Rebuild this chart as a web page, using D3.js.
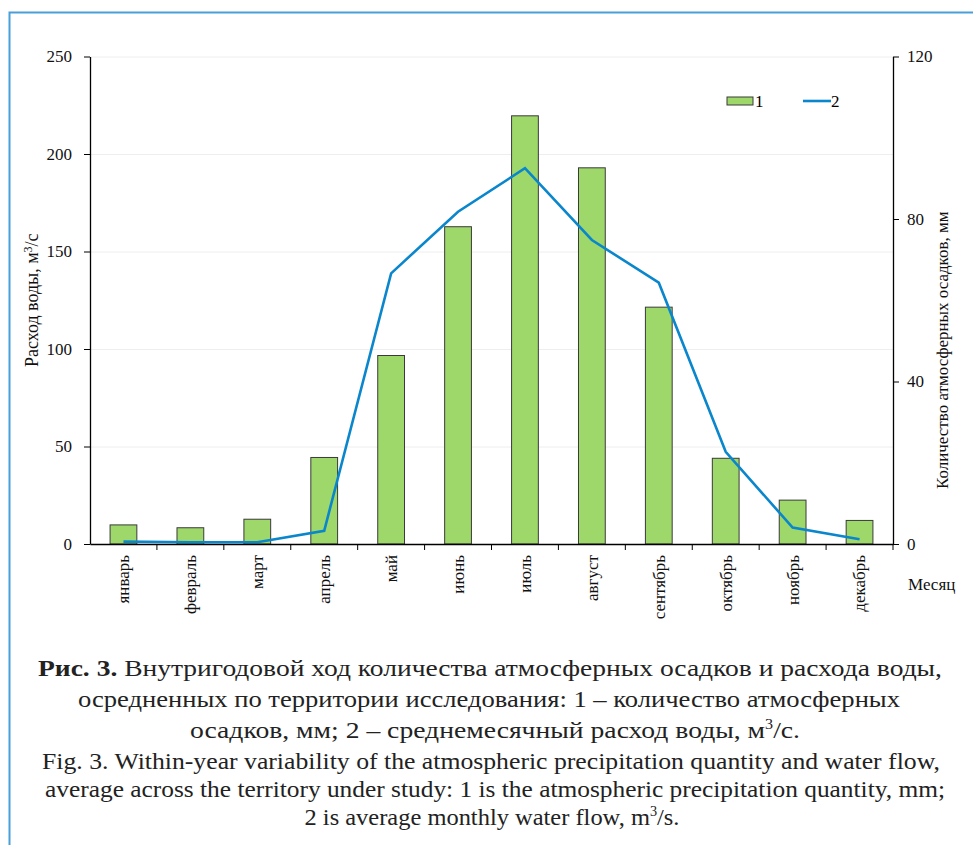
<!DOCTYPE html>
<html>
<head>
<meta charset="utf-8">
<script src="https://cdn.jsdelivr.net/npm/d3@7"></script>
<style>
  body { margin: 0; background: #fff; }
  svg { display: block; font-family: "Liberation Serif", "Times New Roman", serif; }
  svg text { font-family: "Liberation Serif", "Times New Roman", serif !important; }
</style>
</head>
<body>
<svg id="chart" width="973" height="845"></svg>
<script>
// months
var months = ["январь", "февраль", "март", "апрель", "май", "июнь",
              "июль", "август", "сентябрь", "октябрь", "ноябрь", "декабрь"]
// 1 - precipitation, mm (right axis)
var precip = [4.7, 4.0, 6.1, 21.3, 46.4, 78.1, 105.4, 92.6, 58.3, 21.1, 10.8, 5.8]
// 2 - water flow, m3/s (left axis)
var flow = [1.2, 0.9, 0.9, 6.8, 138.8, 170.4, 192.7, 155.9, 134.0, 47.3, 8.4, 2.4]

var leftTicks = [0, 50, 100, 150, 200, 250]
var rightTicks = [0, 40, 80, 120]

var dimensions = {
    width: 973,
    height: 845,
    margin: { top: 56.5, bottom: 301, left: 90, right: 80 }
}

var svg = d3.select("#chart")

// blue frame (open at right and bottom)
svg.append("path")
   .attr("d", "M9.5,845 L9.5,12.5 L973,12.5")
   .attr("fill", "none")
   .attr("stroke", "#4a9fd8")
   .attr("stroke-width", 2)

var x0 = dimensions.margin.left
var x1 = dimensions.width - dimensions.margin.right
var yBottom = dimensions.height - dimensions.margin.bottom
var yTop = dimensions.margin.top

var xScale = d3.scaleBand()
               .domain(months)
               .range([x0, x1])
               .padding(0)

var yLeft = d3.scaleLinear().domain([0, 250]).range([yBottom, yTop])
var yRight = d3.scaleLinear().domain([0, 120]).range([yBottom, yTop])

// gridlines
svg.append("g")
   .selectAll("line")
   .data(leftTicks.slice(1))
   .enter()
   .append("line")
   .attr("x1", x0).attr("x2", x1)
   .attr("y1", d => yLeft(d) + 0.5).attr("y2", d => yLeft(d) + 0.5)
   .attr("stroke", "#eeeeee")
   .attr("stroke-width", 1)

// bars
var barW = xScale.bandwidth() * 0.4
svg.append("g")
   .selectAll("rect")
   .data(precip)
   .enter()
   .append("rect")
   .attr("x", (d, i) => xScale(months[i]) + (xScale.bandwidth() - barW) / 2)
   .attr("y", d => yRight(d))
   .attr("width", barW)
   .attr("height", d => yBottom - yRight(d))
   .attr("fill", "#9fd86a")
   .attr("stroke", "#3a3a3a")
   .attr("stroke-width", 1)

// line
var lineGen = d3.line()
                .x((d, i) => xScale(months[i]) + xScale.bandwidth() / 2)
                .y(d => yLeft(d))

svg.append("path")
   .datum(flow)
   .attr("d", lineGen)
   .attr("fill", "none")
   .attr("stroke", "#0a86cc")
   .attr("stroke-width", 2.6)
   .attr("stroke-linejoin", "miter")

// axes
var leftAxis = svg.append("g")
   .attr("transform", `translate(${x0},0)`)
   .call(d3.axisLeft(yLeft).tickValues(leftTicks).tickSize(6).tickSizeOuter(0).tickPadding(12))
leftAxis.selectAll("text").style("font-size", "17px").attr("fill", "#111")

var rightAxis = svg.append("g")
   .attr("transform", `translate(${x1},0)`)
   .call(d3.axisRight(yRight).tickValues(rightTicks).tickSize(6).tickSizeOuter(0).tickPadding(8))
rightAxis.selectAll("text").style("font-size", "17px").attr("fill", "#111")

var bottomAxis = svg.append("g")
   .attr("transform", `translate(0,${yBottom})`)
   .call(d3.axisBottom(xScale).tickSize(0).tickSizeOuter(0))
bottomAxis.selectAll(".tick line").remove()
bottomAxis.selectAll("text")
   .style("font-size", "17px")
   .attr("fill", "#111")
   .attr("text-anchor", "end")
   .attr("transform", "rotate(-90)")
   .attr("x", -11)
   .attr("y", 0)
   .attr("dy", "0.35em")

// ticks between categories
svg.append("g")
   .selectAll("line")
   .data(d3.range(1, months.length + 1))
   .enter()
   .append("line")
   .attr("x1", i => xScale(months[i - 1]) + xScale.bandwidth())
   .attr("x2", i => xScale(months[i - 1]) + xScale.bandwidth())
   .attr("y1", yBottom)
   .attr("y2", yBottom + 6)
   .attr("stroke", "#000")

svg.selectAll(".domain").attr("stroke", "#000").attr("stroke-width", 1.3)
svg.selectAll(".tick line").attr("stroke", "#000")

// axis titles
var lt = svg.append("text")
   .attr("transform", `translate(38,${(yTop + yBottom) / 2}) rotate(-90)`)
   .attr("text-anchor", "middle")
   .style("font-size", "18px")
   .attr("fill", "#111")
lt.append("tspan").text("Расход воды, м")
lt.append("tspan").text("3").attr("dy", -6).style("font-size", "12px")
lt.append("tspan").text("/с").attr("dy", 6)

svg.append("text")
   .attr("transform", `translate(948,${(yTop + yBottom) / 2 + 50}) rotate(-90)`)
   .attr("text-anchor", "middle")
   .style("font-size", "17px")
   .attr("fill", "#111")
   .text("Количество атмосферных осадков, мм")

svg.append("text")
   .attr("x", 908).attr("y", 590)
   .style("font-size", "17px")
   .attr("fill", "#111")
   .text("Месяц")

// legend
var legend = svg.append("g").attr("transform", "translate(727,101)")
legend.append("rect")
   .attr("x", 0).attr("y", -4).attr("width", 26).attr("height", 8)
   .attr("fill", "#9fd86a").attr("stroke", "#3a3a3a")
legend.append("text").attr("x", 28).attr("y", 6).style("font-size", "17px").text("1")
legend.append("line")
   .attr("x1", 76).attr("x2", 104).attr("y1", 0).attr("y2", 0)
   .attr("stroke", "#0a86cc").attr("stroke-width", 2.6)
legend.append("text").attr("x", 104).attr("y", 6).style("font-size", "17px").text("2")

// caption (the original typeface is narrower, so lines are stretched to its widths)
var cap = svg.append("g")
   .attr("fill", "#222")
   .attr("text-anchor", "middle")
   .style("font-size", "24px")

function capLine(x, y, w) {
    return cap.append("text")
              .attr("x", x).attr("y", y)
              .attr("textLength", w)
              .attr("lengthAdjust", "spacingAndGlyphs")
}

var c1 = capLine(490, 676, 904)
c1.append("tspan").text("Рис. 3.").style("font-weight", "bold")
c1.append("tspan").text(" Внутригодовой ход количества атмосферных осадков и расхода воды,")

capLine(489, 707, 822)
   .text("осредненных по территории исследования: 1 – количество атмосферных")

var c3 = capLine(495, 738, 610)
c3.append("tspan").text("осадков, мм; 2 – среднемесячный расход воды, м")
c3.append("tspan").text("3").attr("dy", -9).style("font-size", "14px")
c3.append("tspan").text("/с.").attr("dy", 9)

capLine(491, 769, 898)
   .text("Fig. 3. Within-year variability of the atmospheric precipitation quantity and water flow,")

capLine(495, 797, 900)
   .text("average across the territory under study: 1 is the atmospheric precipitation quantity, mm;")

var c6 = capLine(492, 825, 375)
c6.append("tspan").text("2 is average monthly water flow, m")
c6.append("tspan").text("3").attr("dy", -9).style("font-size", "14px")
c6.append("tspan").text("/s.").attr("dy", 9)
</script>
</body>
</html>
